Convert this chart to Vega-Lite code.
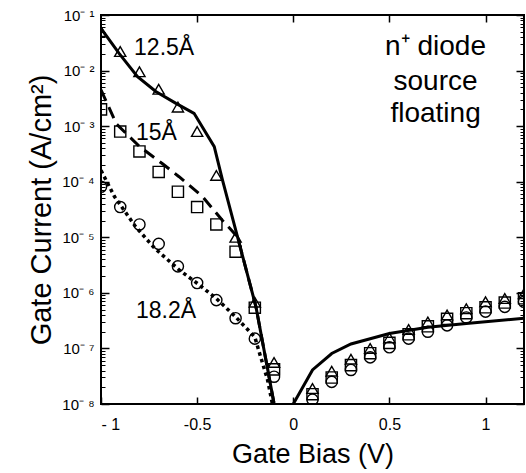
{
  "$schema": "https://vega.github.io/schema/vega-lite/v6.json",
  "width": 423,
  "height": 389,
  "autosize": {"type": "none"},
  "padding": {"left": 101, "top": 15, "right": 2, "bottom": 69},
  "background": "white",
  "config": {
    "view": {"stroke": "black", "strokeWidth": 2},
    "font": "Liberation Sans",
    "axis": {"grid": false, "domain": false, "tickColor": "black", "tickWidth": 1.5, "labelColor": "black", "titleColor": "black", "labelFont": "Liberation Sans", "titleFont": "Liberation Sans", "titleFontWeight": "normal"}
  },
  "datasets": {
    "lines": [
      {"x": -1.0, "y": 5.75e-2, "s": "12.5Å", "seg": "a"},
      {"x": -0.906, "y": 2.04e-2, "s": "12.5Å", "seg": "a"},
      {"x": -0.81, "y": 7.8e-3, "s": "12.5Å", "seg": "a"},
      {"x": -0.715, "y": 4.2e-3, "s": "12.5Å", "seg": "a"},
      {"x": -0.61, "y": 2.57e-3, "s": "12.5Å", "seg": "a"},
      {"x": -0.516, "y": 1.7e-3, "s": "12.5Å", "seg": "a"},
      {"x": -0.411, "y": 4.27e-4, "s": "12.5Å", "seg": "a"},
      {"x": -0.368, "y": 1.07e-4, "s": "12.5Å", "seg": "a"},
      {"x": -0.29, "y": 1.02e-5, "s": "12.5Å", "seg": "a"},
      {"x": -0.194, "y": 5.6e-7, "s": "12.5Å", "seg": "a"},
      {"x": -0.099, "y": 9.8e-9, "s": "12.5Å", "seg": "a"},
      {"x": 0.0, "y": 1.0e-8, "s": "12.5Å", "seg": "b"},
      {"x": 0.1, "y": 4.1e-8, "s": "12.5Å", "seg": "b"},
      {"x": 0.2, "y": 8.1e-8, "s": "12.5Å", "seg": "b"},
      {"x": 0.3, "y": 1.2e-7, "s": "12.5Å", "seg": "b"},
      {"x": 0.5, "y": 1.86e-7, "s": "12.5Å", "seg": "b"},
      {"x": 0.7, "y": 2.4e-7, "s": "12.5Å", "seg": "b"},
      {"x": 0.9, "y": 2.8e-7, "s": "12.5Å", "seg": "b"},
      {"x": 1.2, "y": 3.5e-7, "s": "12.5Å", "seg": "b"},
      {"x": -1.0, "y": 4.5e-3, "s": "15Å", "seg": "a"},
      {"x": -0.92, "y": 1.1e-3, "s": "15Å", "seg": "a"},
      {"x": -0.8, "y": 4.3e-4, "s": "15Å", "seg": "a"},
      {"x": -0.68, "y": 2.1e-4, "s": "15Å", "seg": "a"},
      {"x": -0.594, "y": 1.23e-4, "s": "15Å", "seg": "a"},
      {"x": -0.472, "y": 5.4e-5, "s": "15Å", "seg": "a"},
      {"x": -0.368, "y": 2.0e-5, "s": "15Å", "seg": "a"},
      {"x": -0.29, "y": 1.02e-5, "s": "15Å", "seg": "a"},
      {"x": -0.194, "y": 5.6e-7, "s": "15Å", "seg": "a"},
      {"x": -0.099, "y": 9.8e-9, "s": "15Å", "seg": "a"},
      {"x": -1.0, "y": 1.6e-4, "s": "18.2Å", "seg": "a"},
      {"x": -0.93, "y": 5.4e-5, "s": "18.2Å", "seg": "a"},
      {"x": -0.82, "y": 1.55e-5, "s": "18.2Å", "seg": "a"},
      {"x": -0.72, "y": 6.3e-6, "s": "18.2Å", "seg": "a"},
      {"x": -0.594, "y": 2.6e-6, "s": "18.2Å", "seg": "a"},
      {"x": -0.49, "y": 1.4e-6, "s": "18.2Å", "seg": "a"},
      {"x": -0.4, "y": 7.9e-7, "s": "18.2Å", "seg": "a"},
      {"x": -0.3, "y": 3.7e-7, "s": "18.2Å", "seg": "a"},
      {"x": -0.2, "y": 1.6e-7, "s": "18.2Å", "seg": "a"},
      {"x": -0.17, "y": 7.1e-8, "s": "18.2Å", "seg": "a"},
      {"x": -0.134, "y": 2.75e-8, "s": "18.2Å", "seg": "a"},
      {"x": -0.108, "y": 9.8e-9, "s": "18.2Å", "seg": "a"}
    ],
    "points": [
      {"x": -1.0, "y": 5.0e-2, "s": "12.5Å"},
      {"x": -0.9, "y": 2.2e-2, "s": "12.5Å"},
      {"x": -0.8, "y": 9.5e-3, "s": "12.5Å"},
      {"x": -0.7, "y": 4.6e-3, "s": "12.5Å"},
      {"x": -0.6, "y": 2.2e-3, "s": "12.5Å"},
      {"x": -0.5, "y": 8.0e-4, "s": "12.5Å"},
      {"x": -0.4, "y": 1.3e-4, "s": "12.5Å"},
      {"x": -0.3, "y": 1.0e-5, "s": "12.5Å"},
      {"x": -0.2, "y": 6.8e-7, "s": "12.5Å"},
      {"x": -0.1, "y": 5.6e-8, "s": "12.5Å"},
      {"x": 0.1, "y": 1.9e-8, "s": "12.5Å"},
      {"x": 0.2, "y": 3.9e-8, "s": "12.5Å"},
      {"x": 0.3, "y": 6.4e-8, "s": "12.5Å"},
      {"x": 0.4, "y": 1.0e-7, "s": "12.5Å"},
      {"x": 0.5, "y": 1.55e-7, "s": "12.5Å"},
      {"x": 0.6, "y": 2.2e-7, "s": "12.5Å"},
      {"x": 0.7, "y": 3.0e-7, "s": "12.5Å"},
      {"x": 0.8, "y": 4.0e-7, "s": "12.5Å"},
      {"x": 0.9, "y": 5.2e-7, "s": "12.5Å"},
      {"x": 1.0, "y": 6.9e-7, "s": "12.5Å"},
      {"x": 1.1, "y": 7.9e-7, "s": "12.5Å"},
      {"x": 1.2, "y": 9.7e-7, "s": "12.5Å"},
      {"x": -1.0, "y": 2.0e-3, "s": "15Å"},
      {"x": -0.9, "y": 8.0e-4, "s": "15Å"},
      {"x": -0.8, "y": 3.5e-4, "s": "15Å"},
      {"x": -0.7, "y": 1.5e-4, "s": "15Å"},
      {"x": -0.6, "y": 6.6e-5, "s": "15Å"},
      {"x": -0.5, "y": 3.5e-5, "s": "15Å"},
      {"x": -0.4, "y": 1.7e-5, "s": "15Å"},
      {"x": -0.3, "y": 5.5e-6, "s": "15Å"},
      {"x": -0.2, "y": 5.4e-7, "s": "15Å"},
      {"x": -0.1, "y": 4.2e-8, "s": "15Å"},
      {"x": 0.1, "y": 1.5e-8, "s": "15Å"},
      {"x": 0.2, "y": 3.0e-8, "s": "15Å"},
      {"x": 0.3, "y": 5.0e-8, "s": "15Å"},
      {"x": 0.4, "y": 8.2e-8, "s": "15Å"},
      {"x": 0.5, "y": 1.26e-7, "s": "15Å"},
      {"x": 0.6, "y": 1.8e-7, "s": "15Å"},
      {"x": 0.7, "y": 2.5e-7, "s": "15Å"},
      {"x": 0.8, "y": 3.4e-7, "s": "15Å"},
      {"x": 0.9, "y": 4.3e-7, "s": "15Å"},
      {"x": 1.0, "y": 5.5e-7, "s": "15Å"},
      {"x": 1.1, "y": 6.7e-7, "s": "15Å"},
      {"x": 1.2, "y": 8.0e-7, "s": "15Å"},
      {"x": -1.0, "y": 8.1e-5, "s": "18.2Å"},
      {"x": -0.9, "y": 3.5e-5, "s": "18.2Å"},
      {"x": -0.8, "y": 1.7e-5, "s": "18.2Å"},
      {"x": -0.7, "y": 7.6e-6, "s": "18.2Å"},
      {"x": -0.6, "y": 3.0e-6, "s": "18.2Å"},
      {"x": -0.5, "y": 1.5e-6, "s": "18.2Å"},
      {"x": -0.4, "y": 7.4e-7, "s": "18.2Å"},
      {"x": -0.3, "y": 3.5e-7, "s": "18.2Å"},
      {"x": -0.2, "y": 1.5e-7, "s": "18.2Å"},
      {"x": -0.1, "y": 3.1e-8, "s": "18.2Å"},
      {"x": 0.1, "y": 1.2e-8, "s": "18.2Å"},
      {"x": 0.2, "y": 2.5e-8, "s": "18.2Å"},
      {"x": 0.3, "y": 4.1e-8, "s": "18.2Å"},
      {"x": 0.4, "y": 6.9e-8, "s": "18.2Å"},
      {"x": 0.5, "y": 1.05e-7, "s": "18.2Å"},
      {"x": 0.6, "y": 1.5e-7, "s": "18.2Å"},
      {"x": 0.7, "y": 2.0e-7, "s": "18.2Å"},
      {"x": 0.8, "y": 2.6e-7, "s": "18.2Å"},
      {"x": 0.9, "y": 3.6e-7, "s": "18.2Å"},
      {"x": 1.0, "y": 4.6e-7, "s": "18.2Å"},
      {"x": 1.1, "y": 5.6e-7, "s": "18.2Å"},
      {"x": 1.2, "y": 6.9e-7, "s": "18.2Å"}
    ],
    "labels": [
      {"x": -0.828, "y": 1.9e-2, "text": "12.5Å"},
      {"x": -0.818, "y": 5.6e-4, "text": "15Å"},
      {"x": -0.818, "y": 3.5e-7, "text": "18.2Å"}
    ],
    "notes": [
      {"x": 0.74, "y": 1.91e-2, "text": "n⁺ diode"},
      {"x": 0.74, "y": 4.48e-3, "text": "source"},
      {"x": 0.74, "y": 1.19e-3, "text": "floating"}
    ]
  },
  "resolve": {"axis": {"x": "independent", "y": "independent"}},
  "layer": [
    {
      "data": {"name": "lines"},
      "transform": [{"filter": "datum.s == '12.5Å'"}],
      "mark": {"type": "line", "color": "black", "strokeWidth": 3, "clip": true},
      "encoding": {
        "x": {"field": "x", "type": "quantitative", "scale": {"domain": [-1, 1.2], "nice": false, "zero": false},
          "axis": {"orient": "bottom", "values": [-1, -0.5, 0, 0.5, 1], "tickSize": -7, "labelFontSize": 16, "labelPadding": 19, "labelExpr": "datum.value == -1 ? '- 1' : toString(datum.value)", "title": "Gate  Bias  (V)", "titleFontSize": 27, "titlePadding": 9}},
        "y": {"field": "y", "type": "quantitative", "scale": {"type": "log", "domain": [1e-8, 1e-1], "nice": false},
          "axis": {"orient": "left", "values": [1e-8, 1e-7, 1e-6, 1e-5, 1e-4, 1e-3, 1e-2, 1e-1], "tickSize": -8, "labelFontSize": 15, "labelPadding": 15, "labelOverlap": false, "labelExpr": "'10⁻ ' + ['⁰','¹','²','³','⁴','⁵','⁶','⁷','⁸'][round(-log(datum.value)/LN10)]", "title": "Gate  Current  (A/cm²)", "titleFontSize": 29, "titlePadding": 5}},
        "detail": {"field": "seg"}
      }
    },
    {
      "data": {"name": "lines"},
      "transform": [{"filter": "datum.s == '15Å'"}],
      "mark": {"type": "line", "color": "black", "strokeWidth": 3, "strokeDash": [12, 7], "clip": true},
      "encoding": {
        "x": {"field": "x", "type": "quantitative", "axis": {"orient": "top", "values": [-0.5, 0, 0.5, 1], "tickSize": -7, "labels": false, "title": null}},
        "y": {"field": "y", "type": "quantitative", "axis": {"orient": "left", "values": [2e-8,3e-8,4e-8,5e-8,6e-8,7e-8,8e-8,9e-8,2e-7,3e-7,4e-7,5e-7,6e-7,7e-7,8e-7,9e-7,2e-6,3e-6,4e-6,5e-6,6e-6,7e-6,8e-6,9e-6,2e-5,3e-5,4e-5,5e-5,6e-5,7e-5,8e-5,9e-5,2e-4,3e-4,4e-4,5e-4,6e-4,7e-4,8e-4,9e-4,2e-3,3e-3,4e-3,5e-3,6e-3,7e-3,8e-3,9e-3,2e-2,3e-2,4e-2,5e-2,6e-2,7e-2,8e-2,9e-2], "tickSize": -4, "tickWidth": 1, "labels": false, "title": null}}
      }
    },
    {
      "data": {"name": "lines"},
      "transform": [{"filter": "datum.s == '18.2Å'"}],
      "mark": {"type": "line", "color": "black", "strokeWidth": 3.5, "strokeDash": [3.5, 3.5], "clip": true},
      "encoding": {
        "x": {"field": "x", "type": "quantitative", "axis": null},
        "y": {"field": "y", "type": "quantitative", "axis": {"orient": "right", "values": [1e-8, 1e-7, 1e-6, 1e-5, 1e-4, 1e-3, 1e-2, 1e-1], "tickSize": -8, "labels": false, "title": null}}
      }
    },
    {
      "data": {"name": "points"},
      "mark": {"type": "point", "filled": false, "stroke": "black", "strokeWidth": 1.4, "size": 125, "opacity": 1, "clip": true},
      "encoding": {
        "x": {"field": "x", "type": "quantitative", "axis": null},
        "y": {"field": "y", "type": "quantitative", "axis": {"orient": "right", "values": [2e-8,3e-8,4e-8,5e-8,6e-8,7e-8,8e-8,9e-8,2e-7,3e-7,4e-7,5e-7,6e-7,7e-7,8e-7,9e-7,2e-6,3e-6,4e-6,5e-6,6e-6,7e-6,8e-6,9e-6,2e-5,3e-5,4e-5,5e-5,6e-5,7e-5,8e-5,9e-5,2e-4,3e-4,4e-4,5e-4,6e-4,7e-4,8e-4,9e-4,2e-3,3e-3,4e-3,5e-3,6e-3,7e-3,8e-3,9e-3,2e-2,3e-2,4e-2,5e-2,6e-2,7e-2,8e-2,9e-2], "tickSize": -4, "tickWidth": 1, "labels": false, "title": null}},
        "shape": {"field": "s", "type": "nominal", "scale": {"domain": ["12.5Å", "15Å", "18.2Å"], "range": ["triangle-up", "square", "circle"]}, "legend": null}
      }
    },
    {
      "data": {"name": "labels"},
      "mark": {"type": "text", "align": "left", "baseline": "alphabetic", "fontSize": 23, "color": "black", "font": "Liberation Sans"},
      "encoding": {
        "x": {"field": "x", "type": "quantitative", "axis": null},
        "y": {"field": "y", "type": "quantitative", "axis": null},
        "text": {"field": "text"}
      }
    },
    {
      "data": {"name": "notes"},
      "mark": {"type": "text", "align": "center", "baseline": "alphabetic", "fontSize": 28, "color": "black", "font": "Liberation Sans"},
      "encoding": {
        "x": {"field": "x", "type": "quantitative", "axis": null},
        "y": {"field": "y", "type": "quantitative", "axis": null},
        "text": {"field": "text"}
      }
    }
  ]
}
